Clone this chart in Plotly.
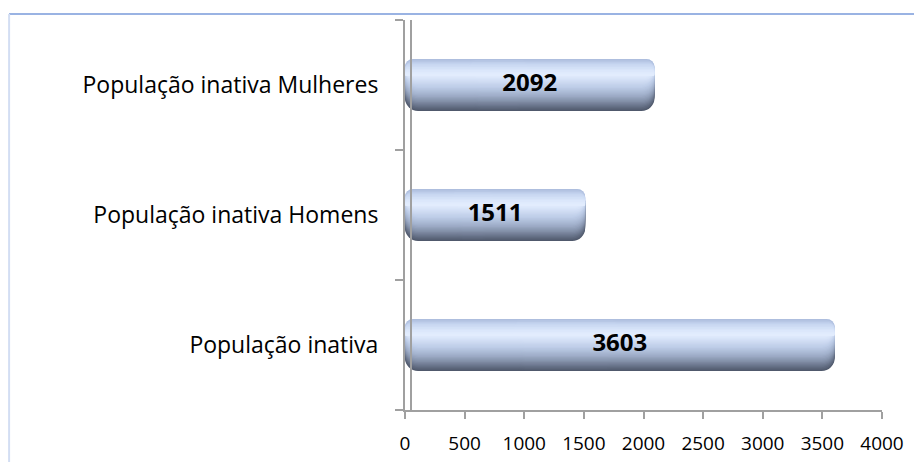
import plotly.graph_objects as go

# ---- data ----
categories = ["População inativa", "População inativa Homens", "População inativa Mulheres"]
values = [3603, 1511, 2092]
x_tick_vals = [0, 500, 1000, 1500, 2000, 2500, 3000, 3500, 4000]
x_tick_text = ["0", "500", "1000", "1500", "2000", "2500", "3000", "3500", "4000"]

# ---- style ----
BAR_W = 0.4
RADIUS = 13
AXIS_GRAY = "#a0a0a0"
FONT = "Open Sans"

# vertical colour profile of the cylinder-like bar (t = 0 top edge, 1 bottom edge)
profile = [
    (0.00, (0xae, 0xbe, 0xde)),
    (0.08, (0xc6, 0xd5, 0xf0)),
    (0.20, (0xda, 0xe6, 0xfa)),
    (0.30, (0xe4, 0xee, 0xfe)),
    (0.40, (0xd6, 0xe2, 0xf7)),
    (0.55, (0xbe, 0xcd, 0xe8)),
    (0.70, (0xa2, 0xb1, 0xcc)),
    (0.82, (0x84, 0x91, 0xaa)),
    (0.92, (0x67, 0x72, 0x88)),
    (1.00, (0x50, 0x59, 0x6c)),
]


def colour_at(t):
    for (t0, c0), (t1, c1) in zip(profile[:-1], profile[1:]):
        if t0 <= t <= t1:
            f = (t - t0) / (t1 - t0) if t1 > t0 else 0
            c = [round(a + (b - a) * f) for a, b in zip(c0, c1)]
            return "rgb({},{},{})".format(*c)
    c = profile[-1][1]
    return "rgb({},{},{})".format(*c)


HL = 0.31  # highlight line
layers = []
# lower part: top-aligned layers shrinking towards the highlight
n_low = 28
for k in range(n_low):
    tb = 1.0 - k * (1.0 - HL) / n_low
    layers.append((0.0, tb, colour_at(tb)))
# upper part: layers anchored at the highlight, shrinking from the top
n_up = 10
for k in range(n_up):
    tt = k * HL / n_up
    layers.append((tt, HL, colour_at(tt)))

fig = go.Figure()

for t_top, t_bot, col in layers:
    w = (t_bot - t_top) * BAR_W
    off = BAR_W / 2 - t_bot * BAR_W
    # left part: drawn from the middle back to zero -> rounded left end
    fig.add_trace(go.Bar(
        y=categories, x=[-v / 2 for v in values], base=[v / 2 for v in values],
        orientation="h", width=w, offset=off,
        marker=dict(color=col, line=dict(width=0), cornerradius=RADIUS),
        hoverinfo="skip", showlegend=False,
    ))
    # right part: rounded right end
    fig.add_trace(go.Bar(
        y=categories, x=[v * 3 / 4 for v in values], base=[v / 4 for v in values],
        orientation="h", width=w, offset=off,
        marker=dict(color=col, line=dict(width=0), cornerradius=RADIUS),
        hoverinfo="skip", showlegend=False,
    ))

# value labels
fig.add_trace(go.Scatter(
    x=[v / 2 for v in values], y=categories, mode="text",
    text=[f"<b>{v}</b>" for v in values],
    textfont=dict(family=FONT, size=24, color="#000000"),
    hoverinfo="skip", showlegend=False,
))

fig.update_layout(
    width=922, height=462,
    margin=dict(l=397, r=48, t=12, b=60),
    paper_bgcolor="white", plot_bgcolor="white",
    barmode="overlay",
    showlegend=False,
    font=dict(family=FONT, size=19, color="#000000"),
    xaxis=dict(
        range=[0, 4000], tickvals=x_tick_vals, ticktext=x_tick_text,
        showgrid=False, zeroline=False,
        showline=True, linecolor=AXIS_GRAY, linewidth=2,
        ticks="outside", ticklen=7, tickwidth=2, tickcolor=AXIS_GRAY,
        tickfont=dict(family=FONT, size=19, color="#000000"),
        ticklabelstandoff=8,
        fixedrange=True,
    ),
    yaxis=dict(
        type="category", categoryorder="array", categoryarray=categories,
        range=[-0.5, 2.5],
        showgrid=False, zeroline=False,
        showline=True, linecolor=AXIS_GRAY, linewidth=2,
        ticks="outside", ticklen=8, tickwidth=2, tickcolor=AXIS_GRAY,
        tickson="boundaries",
        tickfont=dict(family=FONT, size=23, color="#000000"),
        ticklabelstandoff=20,
        fixedrange=True,
    ),
    shapes=[
        # second wall line (3D depth)
        dict(type="line", xref="x", xsizemode="pixel", xanchor=0, x0=6, x1=6,
             yref="paper", y0=0, y1=1, line=dict(color=AXIS_GRAY, width=2)),
        # chart border
        dict(type="line", xref="paper", yref="paper", x0=-0.830, x1=1.2,
             y0=1.0154, y1=1.0154, line=dict(color="#9ab3e3", width=2)),
        dict(type="line", xref="paper", yref="paper", x0=-0.830, x1=-0.830,
             y0=1.0154, y1=-0.2, line=dict(color="#d3def3", width=2)),
    ],
)

fig.write_html("out.html")
